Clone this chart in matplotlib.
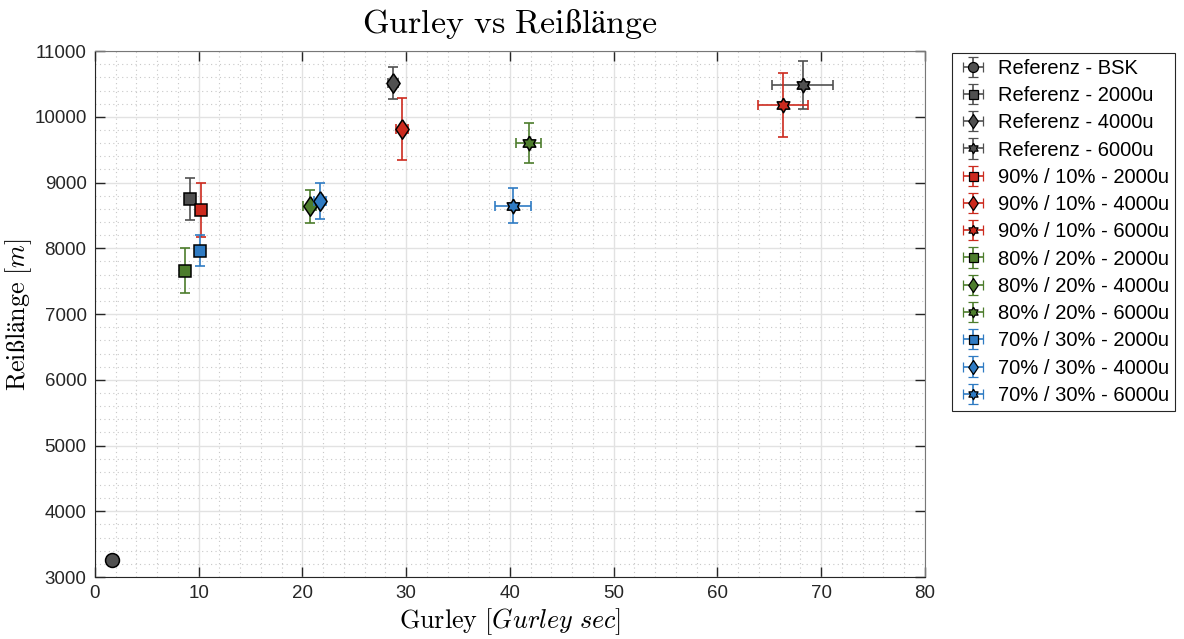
import numpy as np
import matplotlib
matplotlib.use("Agg")
import matplotlib.pyplot as plt
from matplotlib.ticker import MultipleLocator

plt.rcParams["mathtext.fontset"] = "cm"
plt.rcParams["font.family"] = ["Liberation Sans", "DejaVu Sans"]

# Messwerte: Gurley [s] und Reißlänge [m], jeweils Mittelwert und Streuung
labels = [
    "Referenz - BSK", "Referenz - 2000u", "Referenz - 4000u", "Referenz - 6000u",
    "90% / 10% - 2000u", "90% / 10% - 4000u", "90% / 10% - 6000u",
    "80% / 20% - 2000u", "80% / 20% - 4000u", "80% / 20% - 6000u",
    "70% / 30% - 2000u", "70% / 30% - 4000u", "70% / 30% - 6000u",
]
gurley = [1.6, 9.2, 28.7, 68.2, 10.2, 29.6, 66.3, 8.7, 20.7, 41.8, 10.1, 21.7, 40.3]
gurley_err = [0.2, 0.3, 0.5, 2.9, 0.3, 0.6, 2.4, 0.3, 0.6, 1.2, 0.3, 0.6, 1.7]
reiss = [3260, 8750, 10520, 10480, 8580, 9820, 10180, 7660, 8640, 9600, 7960, 8720, 8650]
reiss_err = [60, 325, 245, 365, 415, 470, 480, 345, 250, 300, 236, 270, 265]

gray = "#505050"
red = "#cc2a1e"
green = "#4d7d2c"
blue = "#2f7bc3"
colors = [gray] * 4 + [red] * 3 + [green] * 3 + [blue] * 3

# Raute und Hexagramm wie in MATLAB
diamond = [(0, 1), (0.68, 0), (0, -1), (-0.68, 0), (0, 1)]
ang = np.pi / 2 + np.arange(12) * np.pi / 6
rad = np.where(np.arange(12) % 2 == 0, 1.0, 0.58)
hexagram = list(zip(rad * np.cos(ang), rad * np.sin(ang)))
hexagram.append(hexagram[0])

markers = ["o", "s", diamond, hexagram] + [("s", diamond, hexagram)[i % 3] for i in range(9)]


def marker_size(m):
    if isinstance(m, str):
        return {"o": 10, "s": 9}[m]
    return 14 if m is diamond else 10.5


fig = plt.figure(figsize=(11.84, 6.39), dpi=100)
ax = fig.add_axes([0.0802, 0.097, 0.7010, 0.823])

handles = []
for i in range(len(labels)):
    m = markers[i]
    ms = marker_size(m)
    ax.errorbar(
        gurley[i], reiss[i], xerr=gurley_err[i], yerr=reiss_err[i],
        fmt="none", ecolor=colors[i], elinewidth=1.2, capsize=3.8, capthick=1.2,
        zorder=2 + i,
    )
    ax.plot(gurley[i], reiss[i], linestyle="none", marker=m, markersize=ms,
            markerfacecolor=colors[i], markeredgecolor="black", markeredgewidth=1.1,
            zorder=2.5 + i)
    handles.append(ax.errorbar(
        [np.nan], [np.nan], xerr=[1], yerr=[1], color=colors[i], marker=m,
        markersize=ms * 0.72, markerfacecolor=colors[i], markeredgecolor="black",
        markeredgewidth=0.9, elinewidth=1.2, capsize=3.8, capthick=1.2, linestyle="none",
    ))

ax.set_xlim(0, 80)
ax.set_ylim(3000, 11000)
ax.xaxis.set_major_locator(MultipleLocator(10))
ax.xaxis.set_minor_locator(MultipleLocator(2))
ax.yaxis.set_major_locator(MultipleLocator(1000))
ax.yaxis.set_minor_locator(MultipleLocator(200))

ax.grid(which="major", color="#e2e2e2", linewidth=1.0, linestyle="-")
ax.grid(which="minor", color="#c8c8c8", linewidth=0.8, linestyle=(0, (1, 3)))
ax.set_axisbelow(True)

ax.tick_params(which="major", direction="in", length=7, width=1.0, top=True, right=True,
               labelsize=13.5, colors="#262626", pad=6)
ax.tick_params(which="minor", length=0)
for side in ["left", "bottom"]:
    ax.spines[side].set_color("#262626")
for side in ["top", "right"]:
    ax.spines[side].set_color("#777777")

ax.set_title(r"$\mathrm{Gurley\ vs\ Reißlänge}$", fontsize=24.5, pad=13, color="black")
ax.set_xlabel(r"$\mathrm{Gurley}\ [Gurley\ sec]$", fontsize=18.8, labelpad=3)
ax.set_ylabel(r"$\mathrm{Reißlänge}\ [m]$", fontsize=18.8)
ax.yaxis.set_label_coords(-0.073, 0.5)

leg = ax.legend(handles, labels, loc="upper left", bbox_to_anchor=(1.032, 0.997),
                fontsize=14.5, frameon=True, fancybox=False, framealpha=1,
                edgecolor="#262626", borderaxespad=0, labelspacing=0.41,
                handlelength=1.5, handletextpad=0.5, borderpad=0.3)
leg.get_frame().set_linewidth(0.8)

fig.savefig("out.png", dpi=100)
